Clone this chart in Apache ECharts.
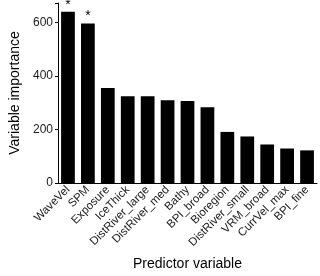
<!DOCTYPE html>
<html><head><meta charset="utf-8">
<script src="https://cdn.jsdelivr.net/npm/echarts@6/dist/echarts.min.js"></script>
<style>html,body{margin:0;padding:0;background:#fff}#c{width:320px;height:276px}</style>
</head><body><div id="c"></div>
<script>
const categories = ["WaveVel","SPM","Exposure","IceThick","DistRiver_large","DistRiver_med","Bathy","BPI_broad","Bioregion","DistRiver_small","VRM_broad","CurrVel_max","BPI_fine"];
const importance = [640,596,355,324,324,309,307,283,191,174,144,129,122];
const significance = ["*","*","","","","","","","","","","",""];
const yTicks = [0,200,400,600];

const chart = echarts.init(document.getElementById('c'), null, {renderer:'canvas'});
const font = 'Liberation Sans, Arial, sans-serif';
chart.setOption({
  animation:false,
  grid:{left:52,right:3,top:3,bottom:92,containLabel:false},
  xAxis:{type:'category',data:categories,
    axisLine:{lineStyle:{color:'#000',width:1}},
    axisTick:{alignWithLabel:true,length:3,lineStyle:{color:'#000'}},
    axisLabel:{rotate:45,fontSize:11.5,color:'#1a1a1a',fontFamily:font,margin:5,interval:0},
    name:'Predictor variable',nameLocation:'middle',nameGap:74,
    nameTextStyle:{fontSize:14,color:'#000',fontFamily:font}},
  yAxis:{type:'value',min:0,max:673,interval:200,
    splitLine:{show:false},
    axisLine:{show:true,lineStyle:{color:'#000',width:1}},
    axisTick:{show:true,length:3,lineStyle:{color:'#000'}},
    axisLabel:{fontSize:12,color:'#1a1a1a',fontFamily:font,margin:5,
      customValues: yTicks},
    name:'Variable importance',nameLocation:'middle',nameGap:36,
    nameTextStyle:{fontSize:14,color:'#000',fontFamily:font}},
  series:[{type:'bar',data:importance.map((v,i)=>({value:v,label:{show:significance[i]!=='',formatter:significance[i]}})),
    barWidth:'69%',itemStyle:{color:'#000'},
    label:{position:'top',distance:0,fontSize:14,color:'#000',fontFamily:font}}]
});
</script></body></html>
